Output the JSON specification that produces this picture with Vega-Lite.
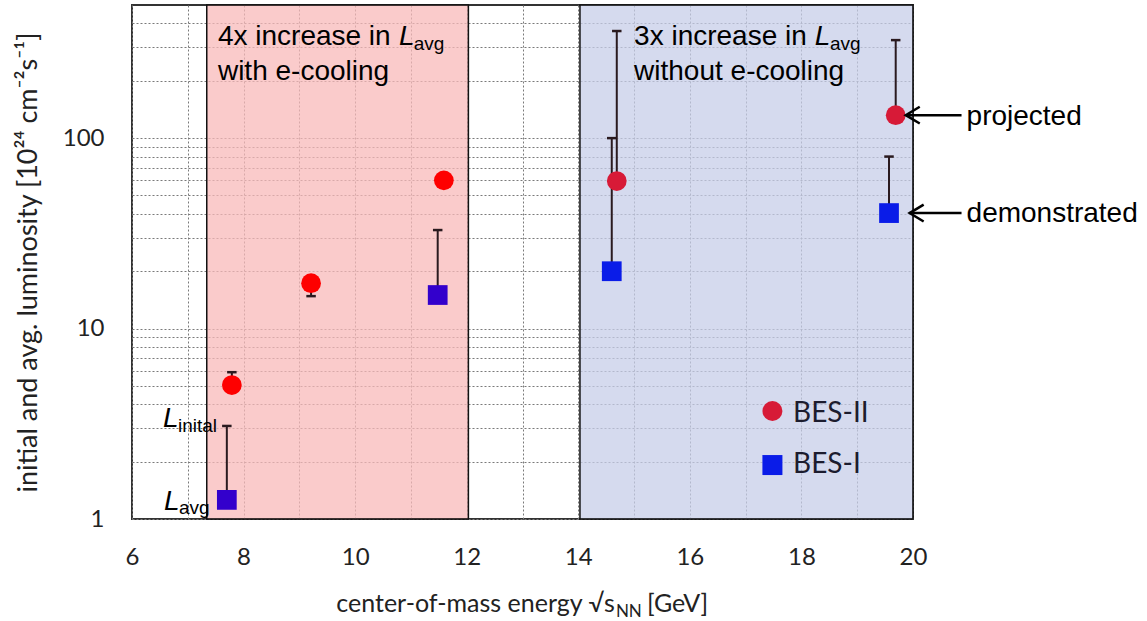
{
  "$schema": "https://vega.github.io/schema/vega-lite/v6.json",
  "width": 781,
  "height": 514,
  "autosize": {"type": "none"},
  "padding": {"left": 132, "top": 5, "right": 234, "bottom": 102},
  "background": "white",
  "config": {
    "view": {"stroke": "#333", "strokeWidth": 2},
    "font": "Lato"
  },
  "datasets": {
    "regions": [
      {"name": "with e-cooling", "x0": 7.34, "x1": 12.03},
      {"name": "without e-cooling", "x0": 14.03, "x1": 20}
    ],
    "points": [
      {"energy": 7.79, "lum": 5.05, "cap": 5.9, "series": "BES-II", "cooling": "with"},
      {"energy": 9.21, "lum": 17.3, "cap": 14.8, "series": "BES-II", "cooling": "with"},
      {"energy": 11.59, "lum": 60, "cap": null, "series": "BES-II", "cooling": "with"},
      {"energy": 14.69, "lum": 59.5, "cap": 365, "series": "BES-II", "cooling": "without"},
      {"energy": 19.69, "lum": 132, "cap": 327, "series": "BES-II", "cooling": "without"},
      {"energy": 7.7, "lum": 1.26, "cap": 3.08, "series": "BES-I", "cooling": "with"},
      {"energy": 11.48, "lum": 15, "cap": 32.9, "series": "BES-I", "cooling": "with"},
      {"energy": 14.6, "lum": 20, "cap": 100, "series": "BES-I", "cooling": "without"},
      {"energy": 19.57, "lum": 40.4, "cap": 80, "series": "BES-I", "cooling": "without"}
    ],
    "legendItems": [
      {"series": "BES-II", "key": "BES-II without", "x": 17.48, "y": 3.69, "tx": 17.85, "ty": 3.23},
      {"series": "BES-I", "key": "BES-I without", "x": 17.48, "y": 1.92, "tx": 17.85, "ty": 1.744}
    ],
    "arrows": [
      {"label": "projected", "tip": 19.87, "tail": 20.87, "level": 132},
      {"label": "demonstrated", "tip": 19.94, "tail": 20.87, "level": 40.4}
    ],
    "notes": [
      {"text": "4x increase in", "x": 7.54, "y": 307.8},
      {"text": "with e-cooling", "x": 7.54, "y": 201.6},
      {"text": "3x increase in", "x": 15.0, "y": 307.8},
      {"text": "without e-cooling", "x": 15.0, "y": 201.6},
      {"text": "projected", "x": 20.96, "y": 117},
      {"text": "demonstrated", "x": 20.96, "y": 36.2}
    ],
    "bigL": [
      {"text": "L", "x": 10.785, "y": 307.8},
      {"text": "L", "x": 18.24, "y": 307.8},
      {"text": "L", "x": 6.556, "y": 3.04},
      {"text": "L", "x": 6.573, "y": 1.115}
    ],
    "subs": [
      {"text": "avg", "x": 11.05, "y": 289.7},
      {"text": "avg", "x": 18.51, "y": 289.7},
      {"text": "inital", "x": 6.824, "y": 2.86},
      {"text": "avg", "x": 6.842, "y": 1.062}
    ],
    "xtitle": [
      {"text": "center-of-mass energy √s", "x": 14.656, "y": 0.325}
    ],
    "xtitleSub": [
      {"text": "NN", "x": 14.674, "y": 0.306}
    ],
    "xtitleEnd": [
      {"text": "[GeV]", "x": 15.23, "y": 0.325}
    ]
  },
  "layer": [
    {
      "data": {"name": "regions"},
      "mark": {"type": "rect", "fillOpacity": 0.75, "stroke": "#111", "strokeWidth": 1.5},
      "encoding": {
        "x": {
          "field": "x0", "type": "quantitative",
          "scale": {"domain": [6, 20], "nice": false, "zero": false},
          "axis": {
            "title": null,
            "values": [6, 7, 8, 9, 10, 11, 12, 13, 14, 15, 16, 17, 18, 19, 20],
            "format": "d",
            "labelExpr": "datum.value % 2 == 0 ? datum.label : ''",
            "grid": true, "gridColor": "#7a7a7a", "gridDash": [2, 2], "gridWidth": 1,
            "domain": false, "ticks": false, "labelPadding": 26,
            "labelFont": "Lato", "labelFontSize": 24, "labelColor": "#222",
            "labelFlush": false, "labelOverlap": false
          }
        },
        "x2": {"field": "x1"},
        "y": {
          "datum": 1, "type": "quantitative",
          "scale": {"type": "log", "domain": [1, 500], "nice": false},
          "axis": {
            "title": "initial and avg. luminosity [10²⁴ cm⁻²s⁻¹]",
            "values": [1, 2, 3, 4, 5, 6, 7, 8, 9, 10, 20, 30, 40, 50, 60, 70, 80, 90, 100, 200, 300, 400],
            "format": "d",
            "labelExpr": "datum.value == 1 || datum.value == 10 || datum.value == 100 ? datum.label : ''",
            "grid": true, "gridColor": "#7a7a7a", "gridDash": [2, 2], "gridWidth": 1,
            "domain": false, "ticks": false, "labelPadding": 28,
            "labelFont": "Lato", "labelFontSize": 24, "labelColor": "#222",
            "labelFlush": false, "labelOverlap": false,
            "titleFont": "Lato", "titleFontSize": 27, "titleFontWeight": "normal",
            "titleColor": "#222", "titlePadding": 20
          }
        },
        "y2": {"datum": 500},
        "fill": {
          "field": "name", "type": "nominal",
          "scale": {"domain": ["with e-cooling", "without e-cooling"], "range": ["#f8baba", "#c7cee8"]},
          "legend": null
        }
      }
    },
    {
      "data": {"name": "points"},
      "transform": [{"filter": "datum.cap != null"}],
      "mark": {"type": "rule", "color": "#2a1a1f", "strokeWidth": 2},
      "encoding": {
        "x": {"field": "energy", "type": "quantitative"},
        "y": {"field": "lum", "type": "quantitative"},
        "y2": {"field": "cap"}
      }
    },
    {
      "data": {"name": "points"},
      "transform": [{"filter": "datum.cap != null"}],
      "mark": {"type": "point", "shape": "stroke", "size": 90, "filled": false, "stroke": "#2a1a1f", "strokeWidth": 2.5, "opacity": 1},
      "encoding": {
        "x": {"field": "energy", "type": "quantitative"},
        "y": {"field": "cap", "type": "quantitative"}
      }
    },
    {
      "data": {"name": "points"},
      "transform": [{"calculate": "datum.series + ' ' + datum.cooling", "as": "key"}],
      "mark": {"type": "point", "filled": true, "size": 390, "opacity": 1, "strokeWidth": 0},
      "encoding": {
        "x": {"field": "energy", "type": "quantitative"},
        "y": {"field": "lum", "type": "quantitative"},
        "color": {
          "field": "key", "type": "nominal",
          "scale": {"domain": ["BES-II with", "BES-II without", "BES-I with", "BES-I without"], "range": ["#fe0000", "#d71a37", "#3300cc", "#0a1ce8"]},
          "legend": null
        },
        "shape": {
          "field": "series", "type": "nominal",
          "scale": {"domain": ["BES-II", "BES-I"], "range": ["circle", "square"]},
          "legend": null
        }
      }
    },
    {
      "data": {"name": "legendItems"},
      "mark": {"type": "point", "filled": true, "size": 400, "opacity": 1, "strokeWidth": 0},
      "encoding": {
        "x": {"field": "x", "type": "quantitative"},
        "y": {"field": "y", "type": "quantitative"},
        "color": {"field": "key", "type": "nominal", "legend": null},
        "shape": {"field": "series", "type": "nominal", "legend": null}
      }
    },
    {
      "data": {"name": "legendItems"},
      "mark": {"type": "text", "font": "Lato", "fontSize": 28, "align": "left", "baseline": "alphabetic", "color": "#1c1c2e"},
      "encoding": {
        "x": {"field": "tx", "type": "quantitative"},
        "y": {"field": "ty", "type": "quantitative"},
        "text": {"field": "series"}
      }
    },
    {
      "data": {"name": "arrows"},
      "mark": {"type": "rule", "color": "#000", "strokeWidth": 2.5},
      "encoding": {
        "x": {"field": "tip", "type": "quantitative"},
        "x2": {"field": "tail"},
        "y": {"field": "level", "type": "quantitative"}
      }
    },
    {
      "data": {"name": "arrows"},
      "mark": {"type": "point", "shape": "M2,-1.2L0,0L2,1.2", "size": 196, "filled": false, "stroke": "#000", "strokeWidth": 2.5, "opacity": 1},
      "encoding": {
        "x": {"field": "tip", "type": "quantitative"},
        "y": {"field": "level", "type": "quantitative"}
      }
    },
    {
      "data": {"name": "notes"},
      "mark": {"type": "text", "font": "Liberation Sans", "fontSize": 28, "align": "left", "baseline": "alphabetic", "color": "#000"},
      "encoding": {
        "x": {"field": "x", "type": "quantitative"},
        "y": {"field": "y", "type": "quantitative"},
        "text": {"field": "text"}
      }
    },
    {
      "data": {"name": "bigL"},
      "mark": {"type": "text", "font": "Liberation Sans", "fontStyle": "italic", "fontSize": 28, "align": "left", "baseline": "alphabetic", "color": "#000"},
      "encoding": {
        "x": {"field": "x", "type": "quantitative"},
        "y": {"field": "y", "type": "quantitative"},
        "text": {"field": "text"}
      }
    },
    {
      "data": {"name": "subs"},
      "mark": {"type": "text", "font": "Liberation Sans", "fontSize": 19, "align": "left", "baseline": "alphabetic", "color": "#000"},
      "encoding": {
        "x": {"field": "x", "type": "quantitative"},
        "y": {"field": "y", "type": "quantitative"},
        "text": {"field": "text"}
      }
    },
    {
      "data": {"name": "xtitle"},
      "mark": {"type": "text", "font": "Lato", "fontSize": 25, "align": "right", "baseline": "alphabetic", "color": "#222"},
      "encoding": {
        "x": {"field": "x", "type": "quantitative"},
        "y": {"field": "y", "type": "quantitative"},
        "text": {"field": "text"}
      }
    },
    {
      "data": {"name": "xtitleSub"},
      "mark": {"type": "text", "font": "Lato", "fontSize": 17, "align": "left", "baseline": "alphabetic", "color": "#222"},
      "encoding": {
        "x": {"field": "x", "type": "quantitative"},
        "y": {"field": "y", "type": "quantitative"},
        "text": {"field": "text"}
      }
    },
    {
      "data": {"name": "xtitleEnd"},
      "mark": {"type": "text", "font": "Lato", "fontSize": 25, "align": "left", "baseline": "alphabetic", "color": "#222"},
      "encoding": {
        "x": {"field": "x", "type": "quantitative"},
        "y": {"field": "y", "type": "quantitative"},
        "text": {"field": "text"}
      }
    }
  ]
}
